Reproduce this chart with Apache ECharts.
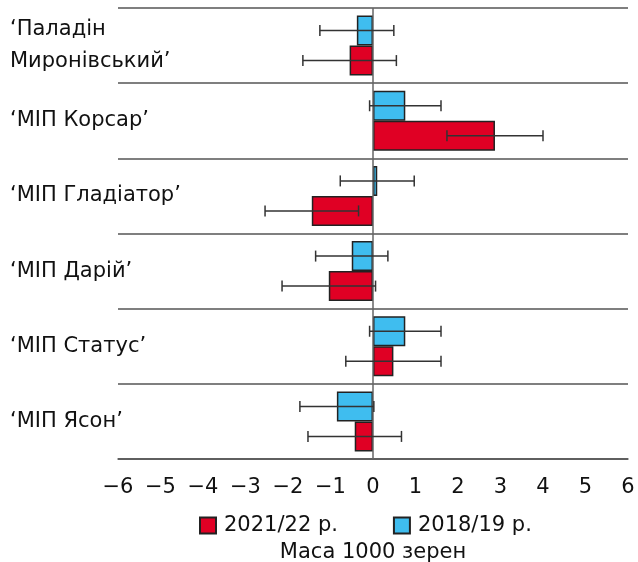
<!DOCTYPE html>
<html>
<head>
<meta charset="utf-8">
<script src="https://cdn.jsdelivr.net/npm/echarts@6/dist/echarts.min.js"></script>
<style>html,body{margin:0;padding:0;background:#fff}#c{width:638px;height:562px}</style>
</head>
<body>
<div id="c"></div>
<script>
var categories = ['‘Паладін\nМиронівський’', '‘МІП Корсар’', '‘МІП Гладіатор’', '‘МІП Дарій’', '‘МІП Статус’', '‘МІП Ясон’'];
var seriesNames = ['2021/22 р.', '2018/19 р.'];
var red2122 = [-0.55, 2.87, -1.44, -1.04, 0.48, -0.43];
var redErr = [1.10, 1.13, 1.10, 1.10, 1.12, 1.10];
var blue1819 = [-0.38, 0.76, 0.10, -0.50, 0.76, -0.85];
var blueErr = [0.87, 0.84, 0.87, 0.85, 0.84, 0.87];
var xMin = -6, xMax = 6, xStep = 1;
var axisTitle = 'Маса 1000 зерен';

var FONT = 'DejaVu Sans';
var FS = 21;
var RED = '#E00024', BLUE = '#3FBDEF';

function errData(vals, errs) {
  return vals.map(function (v, i) { return [i, v - errs[i], v + errs[i]]; });
}
function makeErr(offset) {
  return function (params, api) {
    var idx = api.value(0);
    var a = api.coord([api.value(1), idx]);
    var b = api.coord([api.value(2), idx]);
    var y = a[1] + offset;
    var h = 5.5;
    var st = { stroke: '#333', lineWidth: 1.5 };
    return {
      type: 'group',
      children: [
        { type: 'line', shape: { x1: a[0], y1: y, x2: b[0], y2: y }, style: st },
        { type: 'line', shape: { x1: a[0], y1: y - h, x2: a[0], y2: y + h }, style: st },
        { type: 'line', shape: { x1: b[0], y1: y - h, x2: b[0], y2: y + h }, style: st }
      ]
    };
  };
}

var chart = echarts.init(document.getElementById('c'));
chart.setOption({
  animation: false,
  textStyle: { fontFamily: FONT },
  grid: { left: 118, right: 10, top: 8, bottom: 103, containLabel: false, outerBoundsMode: 'none' },
  legend: {
    data: seriesNames,
    left: 194, top: 510,
    itemWidth: 16, itemHeight: 16, itemGap: 55,
    icon: 'rect',
    textStyle: { fontFamily: FONT, fontSize: FS, color: '#111', padding: [0, 0, 0, 3] }
  },
  xAxis: {
    type: 'value', min: xMin, max: xMax, interval: xStep,
    name: axisTitle, nameLocation: 'middle', nameGap: 83,
    nameTextStyle: { fontFamily: FONT, fontSize: FS, color: '#111' },
    axisLine: { show: true, lineStyle: { color: '#555', width: 1.5 } },
    axisTick: { show: false },
    splitLine: { show: false },
    axisLabel: {
      fontFamily: FONT, fontSize: FS, color: '#111', margin: 18,
      formatter: function (v) { return String(v).replace('-', '\u2212'); }
    }
  },
  yAxis: {
    type: 'category', data: categories, inverse: true,
    axisLine: { show: false }, axisTick: { show: false },
    splitLine: { show: true, lineStyle: { color: '#555', width: 1.5 } },
    axisLabel: {
      fontFamily: FONT, fontSize: FS, color: '#111',
      align: 'left', margin: 108, lineHeight: 32,
      padding: [0, 0, 12, 0]
    }
  },
  series: [
    {
      name: seriesNames[1], type: 'bar', data: blue1819, barWidth: 30, barGap: '0%',
      itemStyle: { color: BLUE, borderColor: '#222', borderWidth: 1.5 },
      markLine: {
        silent: true, symbol: 'none', label: { show: false },
        lineStyle: { color: '#666', width: 1.5, type: 'solid' },
        data: [{ xAxis: 0 }]
      }
    },
    {
      name: seriesNames[0], type: 'bar', data: red2122, barWidth: 30, barGap: '0%',
      itemStyle: { color: RED, borderColor: '#222', borderWidth: 1.5 }
    },
    {
      type: 'custom', renderItem: makeErr(-15), data: errData(blue1819, blueErr),
      encode: { x: [1, 2], y: 0 }, z: 5, silent: true
    },
    {
      type: 'custom', renderItem: makeErr(15), data: errData(red2122, redErr),
      encode: { x: [1, 2], y: 0 }, z: 5, silent: true
    }
  ]
});
</script>
</body>
</html>
